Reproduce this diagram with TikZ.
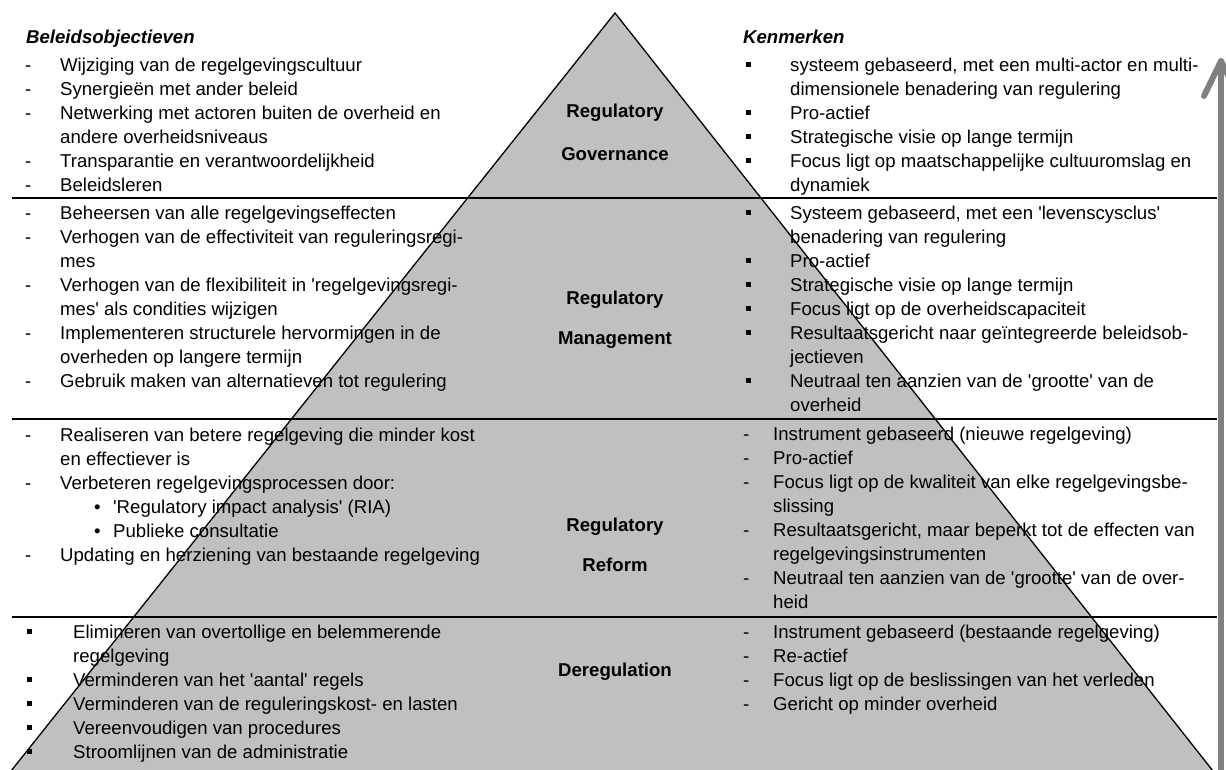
\documentclass[tikz,border=0pt]{standalone}
\usepackage{fontspec}
\setmainfont{Liberation Sans}
\definecolor{tri}{HTML}{C0C0C0}
\definecolor{arr}{HTML}{808080}
\newcommand\sqm{\rule[4.3pt]{4.3pt}{5pt}}
\newcommand\qq{\textquotesingle}
\tikzset{
  txt/.style={anchor=base west, inner sep=0pt, font=\fontsize{18.6}{24}\selectfont},
  hd/.style={anchor=base west, inner sep=0pt, font=\fontsize{18.6}{24}\selectfont\bfseries\itshape},
  lab/.style={anchor=base, inner sep=0pt, font=\fontsize{18.6}{24}\selectfont\bfseries},
  sepline/.style={line width=2pt, draw=black},
  arrline/.style={line width=6pt, draw=arr, line cap=round, line join=round},
}
\begin{document}
\begin{tikzpicture}[x=1pt, y=-1pt]
\useasboundingbox (0,0) rectangle (1226,769);
% triangle
\coordinate (apex) at (615,13);
\coordinate (bl) at (11,771);
\coordinate (br) at (1213,771);
\filldraw[fill=tri, draw=black, line width=1.3pt] (bl) -- (apex) -- (br) -- cycle;
% separators
\coordinate (s1l) at (12,198);  \coordinate (s1r) at (1217,198);
\coordinate (s2l) at (12,419);  \coordinate (s2r) at (1217,419);
\coordinate (s3l) at (12,617);  \coordinate (s3r) at (1217,617);
\draw[sepline] (s1l) -- (s1r);
\draw[sepline] (s2l) -- (s2r);
\draw[sepline] (s3l) -- (s3r);
% headings
\node[hd] (hleft) at (26,43) {Beleidsobjectieven};
\node[hd] (hright) at (743,43) {Kenmerken};
% labels
\node[lab] (gov1) at (615,117) {Regulatory};
\node[lab] (gov2) at (615,160) {Governance};
\node[lab] (man1) at (615,304) {Regulatory};
\node[lab] (man2) at (615,344) {Management};
\node[lab] (ref1) at (615,531) {Regulatory};
\node[lab] (ref2) at (615,571) {Reform};
\node[lab] (der1) at (615,676) {Deregulation};
% Governance
\node[txt] (govL) at (25,71) {\begin{tabular}[t]{@{}p{35pt}@{}l@{}}
-&Wijziging van de regelgevingscultuur\\
-&Synergieën met ander beleid\\
-&Netwerking met actoren buiten de overheid en\\
&andere overheidsniveaus\\
-&Transparantie en verantwoordelijkheid\\
-&Beleidsleren
\end{tabular}};
\node[txt] (govR) at (746,71) {\begin{tabular}[t]{@{}p{44pt}@{}l@{}}
\sqm&systeem gebaseerd, met een multi-actor en multi-\\
&dimensionele benadering van regulering\\
\sqm&Pro-actief\\
\sqm&Strategische visie op lange termijn\\
\sqm&Focus ligt op maatschappelijke cultuuromslag en\\
&dynamiek
\end{tabular}};
% Management
\node[txt] (manL) at (25,219) {\begin{tabular}[t]{@{}p{35pt}@{}l@{}}
-&Beheersen van alle regelgevingseffecten\\
-&Verhogen van de effectiviteit van reguleringsregi-\\
&mes\\
-&Verhogen van de flexibiliteit in \qq regelgevingsregi-\\
&mes\qq{} als condities wijzigen\\
-&Implementeren structurele hervormingen in de\\
&overheden op langere termijn\\
-&Gebruik maken van alternatieven tot regulering
\end{tabular}};
\node[txt] (manR) at (746,219) {\begin{tabular}[t]{@{}p{44pt}@{}l@{}}
\sqm&Systeem gebaseerd, met een \qq levenscysclus\qq\\
&benadering van regulering\\
\sqm&Pro-actief\\
\sqm&Strategische visie op lange termijn\\
\sqm&Focus ligt op de overheidscapaciteit\\
\sqm&Resultaatsgericht naar geïntegreerde beleidsob-\\
&jectieven\\
\sqm&Neutraal ten aanzien van de \qq grootte\qq{} van de\\
&overheid
\end{tabular}};
% Reform
\node[txt] (refL) at (25,441) {\begin{tabular}[t]{@{}p{35pt}@{}l@{}}
-&Realiseren van betere regelgeving die minder kost\\
&en effectiever is\\
-&Verbeteren regelgevingsprocessen door:\\
&\hspace{34pt}\makebox[19pt][l]{\textbullet}\qq Regulatory impact analysis\qq{} (RIA)\\
&\hspace{34pt}\makebox[19pt][l]{\textbullet}Publieke consultatie\\
-&Updating en herziening van bestaande regelgeving
\end{tabular}};
\node[txt] (refR) at (743,440) {\begin{tabular}[t]{@{}p{30pt}@{}l@{}}
-&Instrument gebaseerd (nieuwe regelgeving)\\
-&Pro-actief\\
-&Focus ligt op de kwaliteit van elke regelgevingsbe-\\
&slissing\\
-&Resultaatsgericht, maar beperkt tot de effecten van\\
&regelgevingsinstrumenten\\
-&Neutraal ten aanzien van de \qq grootte\qq{} van de over-\\
&heid
\end{tabular}};
% Deregulation
\node[txt] (derL) at (27,638) {\begin{tabular}[t]{@{}p{46pt}@{}l@{}}
\sqm&Elimineren van overtollige en belemmerende\\
&regelgeving\\
\sqm&Verminderen van het \qq aantal\qq{} regels\\
\sqm&Verminderen van de reguleringskost- en lasten\\
\sqm&Vereenvoudigen van procedures\\
\sqm&Stroomlijnen van de administratie
\end{tabular}};
\node[txt] (derR) at (743,638) {\begin{tabular}[t]{@{}p{30pt}@{}l@{}}
-&Instrument gebaseerd (bestaande regelgeving)\\
-&Re-actief\\
-&Focus ligt op de beslissingen van het verleden\\
-&Gericht op minder overheid
\end{tabular}};
% arrow
\coordinate (abot) at (1221,775);
\coordinate (atop) at (1221,61);
\coordinate (abl) at (1204,96);
\coordinate (abr) at (1238,96);
\draw[arrline] (abot) -- (atop);
\draw[arrline] (abl) -- (atop) -- (abr);
\end{tikzpicture}
\end{document}
